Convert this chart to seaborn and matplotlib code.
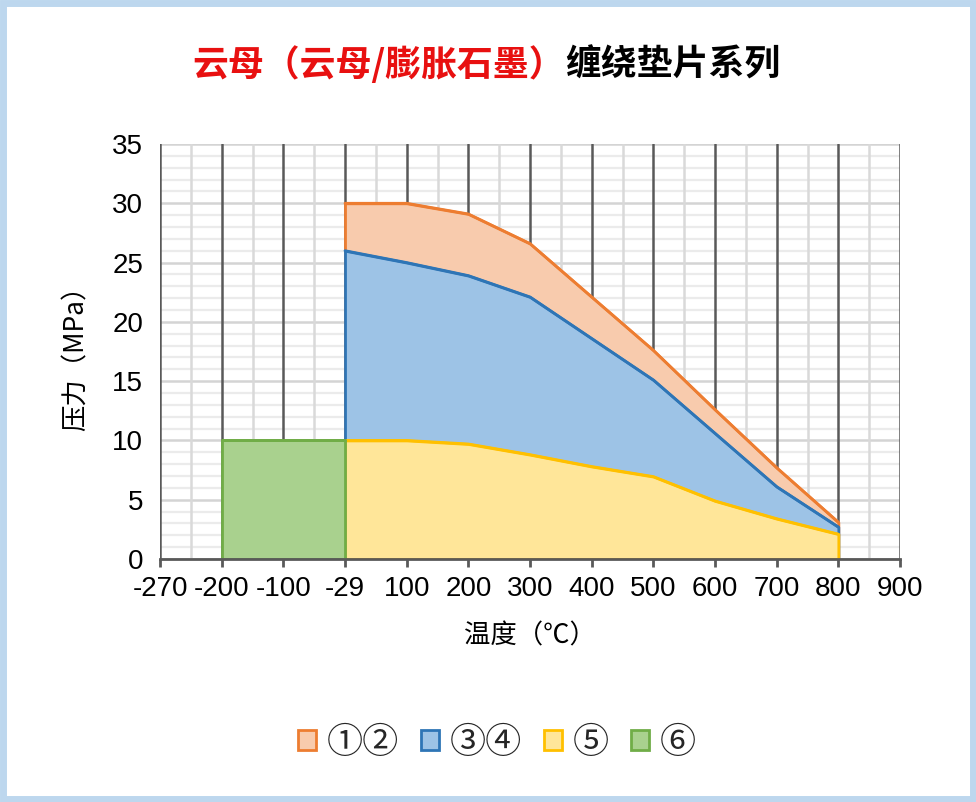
import matplotlib
matplotlib.use("Agg")
import matplotlib.pyplot as plt
from matplotlib.patches import Patch, Rectangle
from matplotlib.ticker import MultipleLocator
import seaborn as sns
import pandas as pd

# ---- data ----
categories = ['-270', '-200', '-100', '-29', '100', '200', '300', '400', '500', '600', '700', '800', '900']
temps_main = ['-29', '100', '200', '300', '400', '500', '600', '700', '800']
s12 = [30, 30, 29.1, 26.6, 22.1, 17.6, 12.6, 7.7, 3.1]
s34 = [26, 25, 23.9, 22.1, 18.6, 15.1, 10.6, 6.1, 2.7]
s5 = [10, 10, 9.7, 8.8, 7.8, 6.95, 4.9, 3.4, 2.1]
temps_low = ['-200', '-100', '-29']
s6 = [10, 10, 10]
series_names = ['①②', '③④', '⑤', '⑥']

edge_colors = ['#ED7D31', '#2E75B6', '#FFC000', '#70AD47']
fill_colors = ['#F8CBAD', '#9DC3E6', '#FFE699', '#A9D18E']

sns.set_theme(style="white")
cjk = ['Noto Sans CJK SC', 'DejaVu Sans']
num_font = ['Liberation Sans', 'Noto Sans CJK SC', 'DejaVu Sans']
plt.rcParams['font.family'] = cjk

fig = plt.figure(figsize=(9.76, 8.02), dpi=100, facecolor='white')
ax = fig.add_axes([160/976, 1-559/802, 740/976, 415/802])

pos = {c: i for i, c in enumerate(categories)}

rows = []
for name, temps, vals in [(series_names[0], temps_main, s12), (series_names[1], temps_main, s34),
                          (series_names[2], temps_main, s5), (series_names[3], temps_low, s6)]:
    for t, v in zip(temps, vals):
        rows.append({'series': name, 'x': pos[t], 'y': v})
df = pd.DataFrame(rows)

ax.set_xlim(0, 12)
ax.set_ylim(0, 35)

# grid lines drawn explicitly so the dark verticals sit above the horizontals
for yv in range(0, 36):
    if yv % 5 == 0:
        ax.axhline(yv, color='#D4D4D4', linewidth=1.8, zorder=0.3)
    else:
        ax.axhline(yv, color='#EBEBEB', linewidth=1.6, zorder=0.2)
for i in range(len(categories)):
    ax.axvline(i, color='#595959', linewidth=1.8, zorder=0.6)
    if i < len(categories) - 1:
        ax.axvline(i + 0.5, color='#D9D9D9', linewidth=1.8, zorder=0.4)

for i, name in enumerate(series_names):
    d = df[df.series == name]
    ax.fill_between(d.x, 0, d.y, facecolor=fill_colors[i], edgecolor=edge_colors[i],
                    linewidth=2, zorder=2 + i)
    sns.lineplot(data=d, x='x', y='y', color=edge_colors[i], linewidth=2, ax=ax,
                 zorder=2 + i, legend=False)

ax.set_xticks(range(len(categories)))
ax.set_xticklabels(categories)
ax.yaxis.set_major_locator(MultipleLocator(5))
ax.grid(False)

for s in ['top', 'right', 'left']:
    ax.spines[s].set_visible(False)
ax.spines['bottom'].set_color('#595959')
ax.spines['bottom'].set_linewidth(2)
ax.spines['bottom'].set_zorder(10)

ax.tick_params(axis='x', which='major', direction='out', length=6, width=2, color='#595959',
               labelsize=20, pad=6, bottom=True)
ax.tick_params(axis='y', which='both', length=0, labelsize=20, pad=12)
for lab in ax.get_xticklabels() + ax.get_yticklabels():
    lab.set_family(num_font)
    lab.set_color('black')

ax.set_xlabel('温度（℃）', fontsize=19, labelpad=15, color='black')
ax.set_ylabel('压力（MPa）', fontsize=19, labelpad=16, color='black')

# title
fig.text(565/976, 1-65/802, '云母（云母/膨胀石墨）', fontsize=25.8, fontweight='bold', color='#E81010',
         ha='right', va='center', family=cjk)
fig.text(565/976, 1-65/802, '缠绕垫片系列', fontsize=25.8, fontweight='bold', color='black',
         ha='left', va='center', family=cjk)

handles = [Patch(facecolor=fill_colors[i], edgecolor=edge_colors[i], linewidth=2, label=series_names[i])
           for i in range(4)]
fig.legend(handles=handles, loc='center', bbox_to_anchor=(497/976, 1-743/802), ncol=4, frameon=False,
           handlelength=0.5, handleheight=0.5, handletextpad=0.3, columnspacing=0.6,
           prop={'family': cjk, 'size': 26})

fig.patches.append(Rectangle((0.003, 0.004), 0.994, 0.992, transform=fig.transFigure, fill=False,
                             edgecolor='#BDD7EE', linewidth=5))

fig.savefig('out.png', dpi=100, facecolor='white')
